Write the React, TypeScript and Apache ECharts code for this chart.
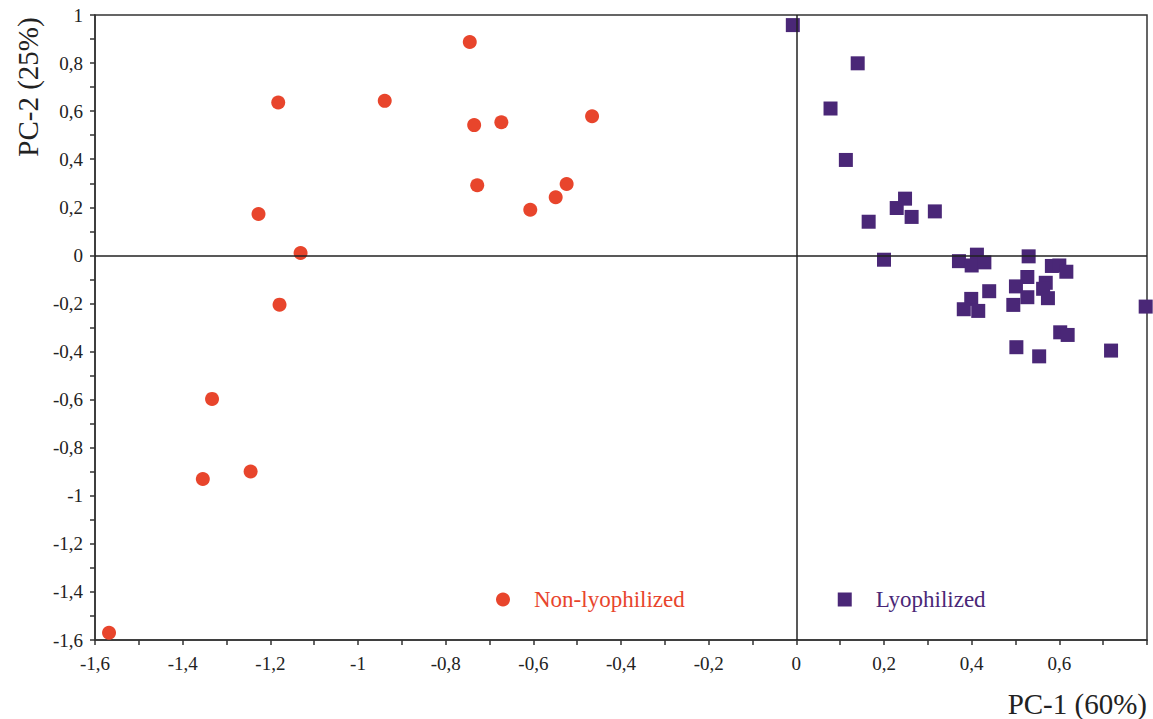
import React, { useEffect, useRef } from "react";
import * as echarts from "echarts";

const nonLyoX = [-0.745, -1.182, -0.939, -0.735, -0.673, -0.466, -0.728, -0.524, -0.549, -0.607, -1.227, -1.131, -1.179, -1.333, -1.245, -1.354, -1.568];
const nonLyoY = [0.8875, 0.636, 0.643, 0.542, 0.554, 0.579, 0.292, 0.297, 0.242, 0.19, 0.172, 0.01, -0.205, -0.597, -0.899, -0.93, -1.57];

const lyoX = [-0.008, 0.14, 0.078, 0.113, 0.165, 0.229, 0.248, 0.263, 0.316, 0.2, 0.371, 0.412, 0.4, 0.429, 0.53, 0.583, 0.6, 0.616, 0.527, 0.569, 0.501, 0.44, 0.563, 0.527, 0.574, 0.399, 0.495, 0.382, 0.415, 0.797, 0.602, 0.619, 0.502, 0.554, 0.718];
const lyoY = [0.958, 0.799, 0.611, 0.397, 0.14, 0.197, 0.236, 0.16, 0.183, -0.018, -0.024, 0.003, -0.042, -0.029, -0.004, -0.044, -0.042, -0.068, -0.09, -0.114, -0.129, -0.149, -0.139, -0.174, -0.178, -0.181, -0.206, -0.224, -0.231, -0.213, -0.32, -0.331, -0.382, -0.42, -0.396];

const seriesNames = ["Non-lyophilized", "Lyophilized"];
const xAxisTitle = "PC-1 (60%)";
const yAxisTitle = "PC-2 (25%)";

const RED = "#E8452C";
const PURPLE = "#4A2777";
const FONT = "Liberation Serif";

const fmt = (v: number) => String(Number(v.toFixed(1))).replace(".", ",");

export default function App() {
  const ref = useRef<HTMLDivElement>(null);
  useEffect(() => {
    document.body.style.margin = "0";
    const chart = echarts.init(ref.current!, undefined, { renderer: "svg" });
    const axisCommon = {
      type: "value" as const,
      interval: 0.2,
      axisLine: { onZero: false, lineStyle: { color: "#333", width: 1.5 } },
      axisTick: { show: true, length: 5, lineStyle: { color: "#333", width: 1.5 } },
      minorTick: { show: true, splitNumber: 2, length: 5, lineStyle: { color: "#333", width: 1.5 } },
      splitLine: { show: false },
      axisLabel: {
        fontFamily: FONT,
        fontSize: 19,
        color: "#222",
      },
    };
    chart.setOption({
      animation: false,
      grid: { left: 95, top: 15, right: 6, bottom: 79, show: true, borderColor: "#333", borderWidth: 1.5, backgroundColor: "transparent" },
      xAxis: {
        ...axisCommon,
        min: -1.6,
        max: 0.8,
        axisLabel: {
          ...axisCommon.axisLabel,
          margin: 14,
          formatter: (v: number) => (Math.abs(v - 0.8) < 1e-6 ? "" : fmt(v)),
        },
      },
      yAxis: {
        ...axisCommon,
        min: -1.6,
        max: 1,
        axisLabel: {
          ...axisCommon.axisLabel,
          margin: 12,
          formatter: (v: number) => fmt(v),
        },
      },
      legend: {
        left: 491,
        top: 583,
        itemWidth: 14,
        itemHeight: 14,
        itemGap: 153,
        textStyle: { fontFamily: FONT, fontSize: 23, padding: [0, 0, 0, 19] },
        data: [
          { name: seriesNames[0], icon: "circle", textStyle: { color: RED } },
          { name: seriesNames[1], icon: "rect", textStyle: { color: PURPLE } },
        ],
      },
      graphic: [
        {
          type: "text",
          x: 28,
          y: 87,
          rotation: Math.PI / 2,
          style: { text: yAxisTitle, fontFamily: FONT, fontSize: 29, fill: "#222", textAlign: "center", textVerticalAlign: "middle" },
        },
        {
          type: "text",
          x: 1147,
          y: 704,
          style: { text: xAxisTitle, fontFamily: FONT, fontSize: 29, fill: "#222", textAlign: "right", textVerticalAlign: "middle" },
        },
      ],
      series: [
        {
          name: seriesNames[0],
          type: "scatter",
          symbol: "circle",
          symbolSize: 14,
          itemStyle: { color: RED, opacity: 1 },
          data: nonLyoX.map((x, i) => [x, nonLyoY[i]]),
          markLine: {
            silent: true,
            symbol: "none",
            label: { show: false },
            lineStyle: { color: "#222", width: 1.5, type: "solid" },
            data: [{ xAxis: 0 }, { yAxis: 0 }],
          },
        },
        {
          name: seriesNames[1],
          type: "scatter",
          symbol: "rect",
          symbolSize: 14,
          itemStyle: { color: PURPLE, opacity: 1 },
          data: lyoX.map((x, i) => [x, lyoY[i]]),
        },
      ],
    });
    return () => chart.dispose();
  }, []);
  return <div ref={ref} style={{ width: 1153, height: 719 }} />;
}
